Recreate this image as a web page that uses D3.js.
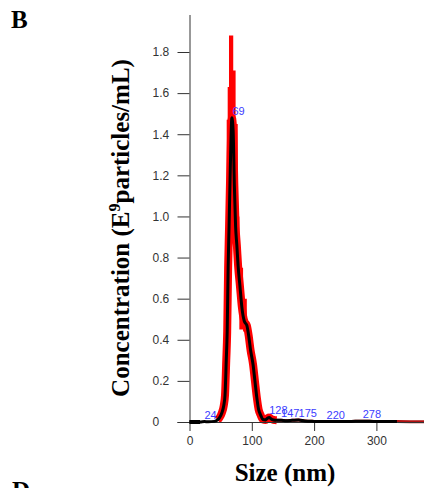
<!DOCTYPE html>
<html>
<head>
<meta charset="utf-8">
<script src="https://cdn.jsdelivr.net/npm/d3@7"></script>
<style>
  body { margin: 0; background: #fff; }
  svg { display: block; }
</style>
</head>
<body>
<div id="chart"></div>
<script>
// size distribution (nm) and mean concentration (E9 particles/mL)
const sizes = [0, 10, 17, 24, 30, 40, 45, 48, 52, 55, 57, 59, 60.5, 62, 63.5, 66, 68, 70, 72, 74, 76, 78, 81, 84, 88, 92, 95, 98, 102, 105, 108, 111, 114, 118, 122, 125, 128, 131, 135, 140, 147, 155, 165, 175, 185, 200, 220, 240, 260, 278, 295, 315, 333];
const meanConc = [0, 0, 0, 0.002, 0.001, 0.003, 0.01, 0.02, 0.045, 0.08, 0.13, 0.3, 0.44, 0.75, 0.95, 1.3, 1.48, 1.42, 1.15, 0.95, 0.86, 0.76, 0.66, 0.56, 0.49, 0.47, 0.42, 0.35, 0.28, 0.2, 0.12, 0.06, 0.035, 0.012, 0.01, 0.018, 0.022, 0.015, 0.01, 0.008, 0.008, 0.006, 0.008, 0.01, 0.005, 0.003, 0.002, 0.002, 0.003, 0.004, 0.003, 0.002, 0.002];

// red error band around the main peak (step bins)
const bandSize = [58, 59.7, 61.3, 63.4, 70.2, 74, 77.4, 80, 86, 92];
const bandHi = [0.3, 1.47, 1.63, 1.88, 1.71, 1.45, 1.0, 0.75, 0.6, 0.5];
const bandLo = [0.15, 0.4, 0.8, 1.0, 0.95, 0.75, 0.6, 0.45, 0.44, 0.44];

// thin red tail past the black trace
const tailSize = [300, 333, 380];
const tailConc = [0.003, 0.002, 0.001];

// peak labels
const peakSize = [24, 69, 128, 147, 175, 220, 278];
const peakConc = [0.002, 1.48, 0.022, 0.012, 0.01, 0.002, 0.004];

const xTicks = [0, 100, 200, 300];
const yTicks = [0, 0.2, 0.4, 0.6, 0.8, 1.0, 1.2, 1.4, 1.6, 1.8];

const width = 424, height = 488;
const margin = { left: 189.5, top: 15, bottom: 66 };
const sans = "Liberation Sans, Arial, sans-serif";

const svg = d3.select("#chart").append("svg")
  .attr("width", width)
  .attr("height", height);

const x = d3.scaleLinear().domain([0, 380]).range([margin.left, margin.left + 380 * 0.623]);
const y = d3.scaleLinear().domain([0, 1.98]).range([height - margin.bottom, margin.top]);

const pts = sizes.map((s, i) => ({ s, v: meanConc[i] }));

// red band
const band = bandSize.map((s, i) => ({ s, hi: bandHi[i], lo: bandLo[i] }));
svg.append("path")
  .datum(band)
  .attr("fill", "#ff0000")
  .attr("d", d3.area().curve(d3.curveStepAfter)
    .x(d => x(d.s)).y0(d => y(d.lo)).y1(d => y(d.hi)));

const line = d3.line().curve(d3.curveMonotoneX).x(d => x(d.s)).y(d => y(d.v));

// thick red halo around the mean
svg.append("path")
  .datum(pts.filter(d => d.s >= 42 && d.s <= 140))
  .attr("fill", "none")
  .attr("stroke", "#ff0000")
  .attr("stroke-width", 8)
  .attr("stroke-linejoin", "round")
  .attr("d", line);

// thinner red along the tail
svg.append("path")
  .datum(pts.filter(d => d.s >= 140).concat(tailSize.map((s, i) => ({ s, v: tailConc[i] }))))
  .attr("fill", "none")
  .attr("stroke", "#b01010")
  .attr("stroke-width", 3)
  .attr("d", line);

// axes
const yAxis = svg.append("g")
  .attr("transform", `translate(${margin.left},0)`)
  .call(d3.axisLeft(y).tickValues(yTicks).tickSize(12).tickPadding(6)
    .tickFormat(d => d === 0 ? "0" : d3.format(".1f")(d)));
yAxis.select(".domain").attr("d", `M0.5,${margin.top}V${y(0)}`);
yAxis.selectAll(".tick text")
  .attr("text-anchor", "start")
  .attr("x", -37);

const xAxis = svg.append("g")
  .attr("transform", `translate(0,${y(0)})`)
  .call(d3.axisBottom(x).tickValues(xTicks).tickSize(9).tickPadding(5));
xAxis.select(".domain").attr("d", `M${margin.left - 12},0.5H${width}`);

svg.selectAll(".tick text")
  .attr("font-family", sans)
  .attr("font-size", 12)
  .attr("fill", "#333");
svg.selectAll(".domain, .tick line").attr("stroke", "#333");

// black mean trace
svg.append("path")
  .datum(pts)
  .attr("fill", "none")
  .attr("stroke", "#000")
  .attr("stroke-width", 3)
  .attr("stroke-linejoin", "round")
  .attr("d", line);
svg.append("path")
  .datum(pts.filter(d => d.s <= 17))
  .attr("fill", "none")
  .attr("stroke", "#000")
  .attr("stroke-width", 4)
  .attr("d", line);

// peak labels
svg.selectAll(".peak")
  .data(peakSize)
  .join("text")
  .attr("class", "peak")
  .attr("x", d => x(d))
  .attr("y", (d, i) => y(peakConc[i]) - 3)
  .attr("font-family", sans)
  .attr("font-size", 11)
  .attr("fill", "#3c3cff")
  .text(d => d);

// titles
const serif = "Liberation Serif, Times New Roman, serif";
svg.append("text")
  .attr("x", 285)
  .attr("y", 481)
  .attr("text-anchor", "middle")
  .attr("font-family", serif)
  .attr("font-weight", "bold")
  .attr("font-size", 25)
  .text("Size (nm)");

const yt = svg.append("text")
  .attr("transform", "translate(129,228) rotate(-90)")
  .attr("text-anchor", "middle")
  .attr("font-family", serif)
  .attr("font-weight", "bold")
  .attr("font-size", 25);
yt.append("tspan").text("Concentration (E");
yt.append("tspan").attr("font-size", 16).attr("dy", -9).text("9");
yt.append("tspan").attr("dy", 9).text("particles/mL)");

svg.append("text")
  .attr("x", 11)
  .attr("y", 28)
  .attr("font-family", serif)
  .attr("font-weight", "bold")
  .attr("font-size", 25)
  .text("B");

svg.append("text")
  .attr("x", 12)
  .attr("y", 499)
  .attr("font-family", serif)
  .attr("font-weight", "bold")
  .attr("font-size", 25)
  .text("D");
</script>
</body>
</html>
